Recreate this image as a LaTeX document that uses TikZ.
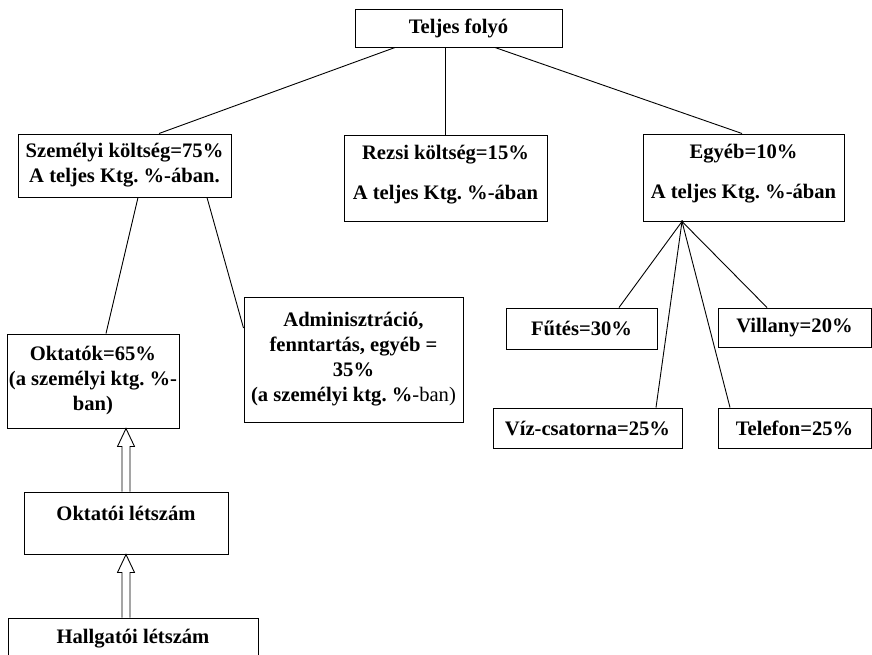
\documentclass[tikz,border=0pt]{standalone}
\usepackage{fontspec}
\setmainfont{Liberation Serif}
\usetikzlibrary{calc}
\frenchspacing
\newcommand\hollowarrow[2]{%
  \draw[conn, fill=white] ($(#1)+(-4,0)$) -- ($(#2)+(-4,18)$) -- ($(#2)+(-8.5,18)$) -- (#2)
    -- ($(#2)+(8.5,18)$) -- ($(#2)+(4,18)$) -- ($(#1)+(4,0)$);}
\begin{document}
\frenchspacing
\begin{tikzpicture}[x=1pt,y=-1pt,
  box/.style={draw, line width=1pt, inner sep=0pt, align=center,
    font=\fontsize{20.6}{25}\selectfont\bfseries\frenchspacing},
  conn/.style={line width=0.9pt}]
\useasboundingbox[fill=white] (0,0) rectangle (872,654);
% nodes
\node[box, minimum width=207pt, minimum height=38pt] (top) at (458.5,28) {Teljes folyó};
\node[box, minimum width=213pt, minimum height=63pt] (pers) at (124.5,165.5)
  {Személyi költség=75\%\\A teljes Ktg. \%-ában.};
\node[box, minimum width=203pt, minimum height=86pt] (rezsi) at (445.5,178)
  {Rezsi költség=15\%\\[15pt]A teljes Ktg. \%-ában\\[-13pt]\mbox{}};
\node[box, minimum width=201pt, minimum height=87pt] (egyeb) at (743.5,177.5)
  {Egyéb=10\%\\[15pt]A teljes Ktg. \%-ában\\[-13pt]\mbox{}};
\node[box, minimum width=172pt, minimum height=94pt] (okt) at (93,381)
  {Oktatók=65\%\\(a személyi ktg. \%-\\ban)};
\node[box, minimum width=219pt, minimum height=125pt] (admin) at (353.5,359.5)
  {Adminisztráció,\\fenntartás, egyéb =\\35\%\\(a személyi ktg. \%{\mdseries-ban)}};
\node[box, minimum width=204pt, minimum height=62pt] (oktl) at (126,523)
  {Oktatói létszám\\[-6pt]\mbox{}};
\node[box, minimum width=250pt, minimum height=56pt] (hall) at (133,646)
  {Hallgatói létszám\\[-6pt]\mbox{}};
\node[box, minimum width=151pt, minimum height=41pt] (futes) at (581.5,328.5) {Fűtés=30\%};
\node[box, minimum width=153pt, minimum height=39pt] (villany) at (794.5,327.5) {Villany=20\%};
\node[box, minimum width=189pt, minimum height=40pt] (viz) at (587.5,428) {Víz-csatorna=25\%};
\node[box, minimum width=153pt, minimum height=40pt] (tel) at (794.5,428) {Telefon=25\%};
% connectors
\draw[conn] ($(top.south)+(-63.5,0)$) -- ($(pers.north)+(34.5,0)$);
\draw[conn] ($(top.south)+(-13,0)$) -- (rezsi.north);
\draw[conn] ($(top.south)+(36.5,0)$) -- ($(egyeb.north)+(-1.5,0)$);
\draw[conn] ($(pers.south)+(13.5,0)$) -- ($(okt.north)+(13,0)$);
\draw[conn] ($(pers.south)+(82.5,0)$) -- ($(admin.west)+(0,-31.5)$);
\coordinate (eb) at ($(egyeb.south)+(-61.5,0)$);
\draw[conn] (eb) -- ($(futes.north)+(37.5,0)$);
\draw[conn] (eb) -- ($(villany.north)+(-27.5,0)$);
\draw[conn] (eb) -- ($(viz.north)+(68.5,0)$);
\draw[conn] (eb) -- ($(tel.north)+(-64.5,0)$);
\fill (eb) circle (1.5pt);
\coordinate (a1) at (oktl.north);
\coordinate (t1) at (oktl.north |- okt.south);
\hollowarrow{a1}{t1}
\coordinate (a2) at (oktl.south |- hall.north);
\coordinate (t2) at (oktl.south);
\hollowarrow{a2}{t2}
\end{tikzpicture}
\end{document}
